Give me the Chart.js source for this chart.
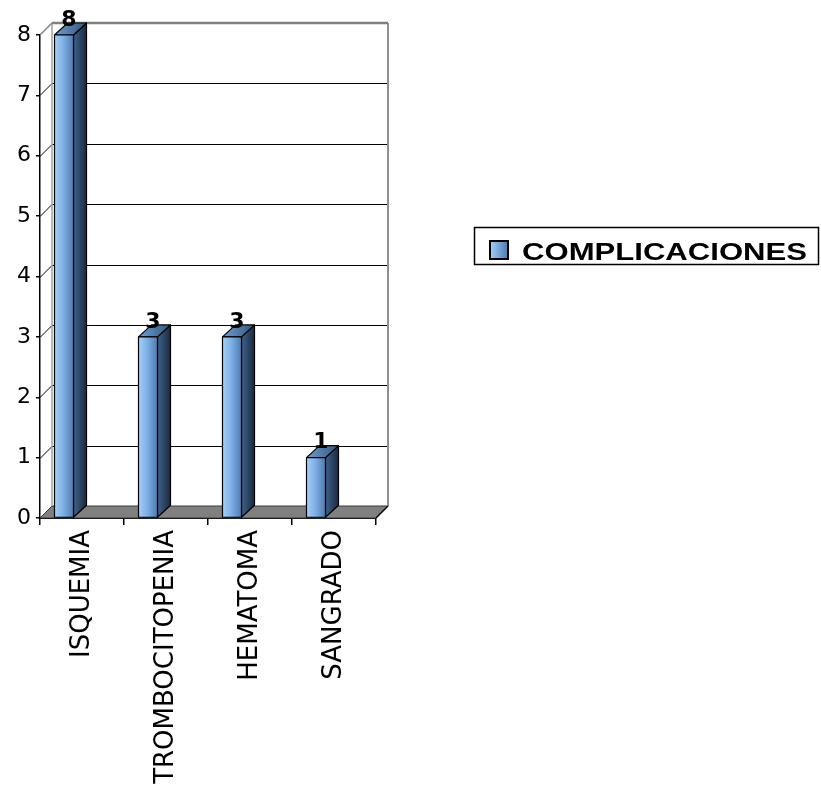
<!DOCTYPE html>
<html>
<head>
<meta charset="utf-8">
<title>Complicaciones</title>
<script src="https://cdn.jsdelivr.net/npm/chart.js@4/dist/chart.umd.min.js"></script>
<style>
  html, body { margin: 0; padding: 0; background: #ffffff; }
  canvas { display: block; }
</style>
</head>
<body>
<canvas id="chart" width="821" height="789"></canvas>
<script>
// Categories and counts
const categories = ['ISQUEMIA', 'TROMBOCITOPENIA', 'HEMATOMA', 'SANGRADO'];
const complicaciones = [8, 3, 3, 1];
const seriesName = 'COMPLICACIONES';
const yMin = 0;
const yMax = 8;
const yStep = 1;

// 3D look: depth of the walls and of each column, and column shift inside its slot
const WALL_DX = 12, WALL_DY = -12;
const BAR_DX = 13, BAR_DY = -12;
const BAR_SHIFT = -18;

function poly(ctx, pts) {
  ctx.beginPath();
  ctx.moveTo(pts[0][0], pts[0][1]);
  for (let i = 1; i < pts.length; i++) ctx.lineTo(pts[i][0], pts[i][1]);
  ctx.closePath();
}

function line(ctx, x0, y0, x1, y1, color, w) {
  ctx.beginPath();
  ctx.moveTo(x0, y0);
  ctx.lineTo(x1, y1);
  ctx.strokeStyle = color;
  ctx.lineWidth = w;
  ctx.stroke();
}

// Back wall, side wall and floor drawn behind the columns
const walls3d = {
  id: 'walls3d',
  beforeDatasetsDraw(chart) {
    const { ctx, chartArea: { left, right, top, bottom }, scales: { y } } = chart;
    ctx.save();
    // floor
    poly(ctx, [[left, bottom], [right, bottom], [right + WALL_DX, bottom + WALL_DY], [left + WALL_DX, bottom + WALL_DY]]);
    ctx.fillStyle = '#808080';
    ctx.fill();
    ctx.strokeStyle = '#3a3a3a';
    ctx.lineWidth = 1;
    ctx.stroke();
    // gridlines on the back wall plus the short diagonals on the side wall
    for (let v = yMin + yStep; v < yMax; v += yStep) {
      const yy = Math.round(y.getPixelForValue(v)) + 0.5;
      line(ctx, left + WALL_DX, yy + WALL_DY, right + WALL_DX, yy + WALL_DY, '#000000', 1);
      line(ctx, left, yy, left + WALL_DX, yy + WALL_DY, '#000000', 1);
    }
    // wall edges
    line(ctx, left + WALL_DX, top + WALL_DY, left + WALL_DX, bottom + WALL_DY, '#a0a0a0', 1.5);
    line(ctx, right + WALL_DX, top + WALL_DY, right + WALL_DX, bottom + WALL_DY, '#909090', 2);
    line(ctx, left + WALL_DX, top + WALL_DY, right + WALL_DX, top + WALL_DY, '#808080', 2.5);
    line(ctx, left, top, left + WALL_DX, top + WALL_DY, '#808080', 1.5);
    line(ctx, right, bottom, right + WALL_DX, bottom + WALL_DY, '#000000', 1.5);
    ctx.restore();
  },
  afterDatasetsDraw(chart) {
    const { ctx } = chart;
    const meta = chart.getDatasetMeta(0);
    const values = chart.data.datasets[0].data;
    ctx.save();
    ctx.lineJoin = 'round';
    meta.data.forEach((el, i) => {
      const p = el.getProps(['x', 'y', 'base', 'width'], true);
      const x0 = p.x + BAR_SHIFT - p.width / 2;
      const x1 = x0 + p.width;
      const yt = p.y, yb = p.base;

      // side face
      const gs = ctx.createLinearGradient(x1, 0, x1 + BAR_DX, 0);
      gs.addColorStop(0, '#3f628c');
      gs.addColorStop(1, '#1a2a3e');
      poly(ctx, [[x1, yt], [x1 + BAR_DX, yt + BAR_DY], [x1 + BAR_DX, yb + BAR_DY], [x1, yb]]);
      ctx.fillStyle = gs;
      ctx.fill();
      ctx.strokeStyle = '#000000';
      ctx.lineWidth = 1.2;
      ctx.stroke();

      // top face
      const gt = ctx.createLinearGradient(x0, 0, x1 + BAR_DX, 0);
      gt.addColorStop(0, '#6f9dd0');
      gt.addColorStop(1, '#34557c');
      poly(ctx, [[x0, yt], [x1, yt], [x1 + BAR_DX, yt + BAR_DY], [x0 + BAR_DX, yt + BAR_DY]]);
      ctx.fillStyle = gt;
      ctx.fill();
      ctx.stroke();

      // front face
      const gf = ctx.createLinearGradient(x0, 0, x1, 0);
      gf.addColorStop(0, '#a4cff8');
      gf.addColorStop(0.45, '#80b0e4');
      gf.addColorStop(1, '#4b7bb2');
      ctx.fillStyle = gf;
      ctx.fillRect(x0, yt, x1 - x0, yb - yt);
      ctx.strokeRect(x0, yt, x1 - x0, yb - yt);

      // value label
      ctx.fillStyle = '#000000';
      ctx.font = 'bold 22px "DejaVu Sans"';
      ctx.textAlign = 'center';
      ctx.textBaseline = 'middle';
      ctx.fillText(String(values[i]), (x0 + x1) / 2 + 5, yt - 15);
    });
    ctx.restore();
  }
};

// Framed legend at the right
const legendBox = {
  id: 'legendBox',
  afterDraw(chart) {
    const { ctx } = chart;
    const label = chart.data.datasets[0].label;
    ctx.save();
    ctx.fillStyle = '#ffffff';
    ctx.fillRect(474.5, 227.5, 344, 37);
    ctx.strokeStyle = '#000000';
    ctx.lineWidth = 1.5;
    ctx.strokeRect(474.5, 227.5, 344, 37);

    const sx = 490, sy = 241, ss = 18;
    const g = ctx.createLinearGradient(sx, 0, sx + ss, 0);
    g.addColorStop(0, '#a4cff8');
    g.addColorStop(1, '#4b7bb2');
    ctx.fillStyle = g;
    ctx.fillRect(sx, sy, ss, ss);
    ctx.strokeStyle = '#000000';
    ctx.lineWidth = 2;
    ctx.strokeRect(sx, sy, ss, ss);

    ctx.font = 'bold 24px "Liberation Sans", Arial, sans-serif';
    ctx.textBaseline = 'alphabetic';
    ctx.textAlign = 'left';
    ctx.fillStyle = '#000000';
    const w = ctx.measureText(label).width;
    const targetW = 285;
    ctx.translate(522, 260);
    ctx.scale(targetW / w, 1);
    ctx.fillText(label, 0, 0);
    ctx.restore();
  }
};

new Chart(document.getElementById('chart'), {
  type: 'bar',
  data: {
    labels: categories,
    datasets: [{
      label: seriesName,
      data: complicaciones,
      backgroundColor: 'rgba(0,0,0,0)',
      borderWidth: 0,
      barThickness: 19
    }]
  },
  options: {
    responsive: false,
    animation: false,
    events: [],
    layout: { padding: { top: 35, right: 445, left: 0, bottom: 0 } },
    plugins: {
      legend: { display: false },
      tooltip: { enabled: false }
    },
    scales: {
      x: {
        offset: true,
        grid: { offset: true, drawOnChartArea: false, drawTicks: true, tickLength: 7, color: '#000000', lineWidth: 1.5 },
        border: { display: true, color: '#000000', width: 2 },
        ticks: {
          font: { family: 'DejaVu Sans', size: 26 },
          color: '#000000',
          minRotation: 90,
          maxRotation: 90,
          padding: 5,
          autoSkip: false
        },
        afterFit(scale) { scale.height = 271; }
      },
      y: {
        min: yMin,
        max: yMax,
        grid: { drawOnChartArea: false, drawTicks: true, tickLength: 4, color: '#000000', lineWidth: 1.5 },
        border: { display: true, color: '#000000', width: 1.5 },
        ticks: {
          stepSize: yStep,
          font: { family: 'DejaVu Sans', size: 22 },
          color: '#000000',
          padding: 5
        },
        afterFit(scale) { scale.width = 40; }
      }
    }
  },
  plugins: [walls3d, legendBox]
});
</script>
</body>
</html>
